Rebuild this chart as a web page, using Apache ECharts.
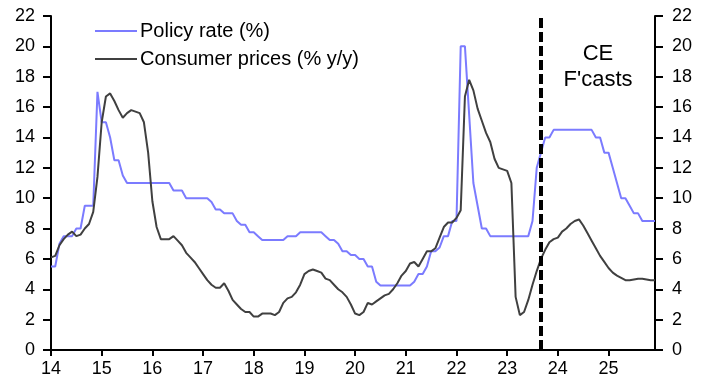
<!DOCTYPE html>
<html><head><meta charset="utf-8">
<script src="https://cdn.jsdelivr.net/npm/echarts@6/dist/echarts.min.js"></script>
<style>html,body{margin:0;padding:0;background:#fff}#c{width:709px;height:385px}</style>
</head><body><div id="c"></div>
<script>
// Category axis: monthly, Jan 2014 .. Dec 2025
const years = ['14','15','16','17','18','19','20','21','22','23','24','25'];
const monthNames = ['01','02','03','04','05','06','07','08','09','10','11','12'];
const yTicks = [0,2,4,6,8,10,12,14,16,18,20,22];

// Policy rate (%)
const policyRate = [
  5.5, 5.5, 7.0, 7.5, 7.5, 7.5, 8.0, 8.0, 9.5, 9.5, 9.5, 17.0,      // 2014
  15.0, 15.0, 14.0, 12.5, 12.5, 11.5, 11.0, 11.0, 11.0, 11.0, 11.0, 11.0, // 2015
  11.0, 11.0, 11.0, 11.0, 11.0, 10.5, 10.5, 10.5, 10.0, 10.0, 10.0, 10.0, // 2016
  10.0, 10.0, 9.75, 9.25, 9.25, 9.0, 9.0, 9.0, 8.5, 8.25, 8.25, 7.75,   // 2017
  7.75, 7.5, 7.25, 7.25, 7.25, 7.25, 7.25, 7.25, 7.5, 7.5, 7.5, 7.75,   // 2018
  7.75, 7.75, 7.75, 7.75, 7.75, 7.5, 7.25, 7.25, 7.0, 6.5, 6.5, 6.25,   // 2019
  6.25, 6.0, 6.0, 5.5, 5.5, 4.5, 4.25, 4.25, 4.25, 4.25, 4.25, 4.25,   // 2020
  4.25, 4.25, 4.5, 5.0, 5.0, 5.5, 6.5, 6.5, 6.75, 7.5, 7.5, 8.5,       // 2021
  8.5, 20.0, 20.0, 15.5, 11.0, 9.5, 8.0, 8.0, 7.5, 7.5, 7.5, 7.5,      // 2022
  7.5, 7.5, 7.5, 7.5, 7.5, 7.5, 8.5, 12.0, 13.0, 14.0, 14.0, 14.5,     // 2023
  14.5, 14.5, 14.5, 14.5, 14.5, 14.5, 14.5, 14.5, 14.5, 14.0, 14.0, 13.0, // 2024
  13.0, 12.0, 11.0, 10.0, 10.0, 9.5, 9.0, 9.0, 8.5, 8.5, 8.5, 8.5      // 2025
];

// Consumer prices (% y/y)
const consumerPrices = [
  6.1, 6.2, 6.9, 7.3, 7.6, 7.8, 7.5, 7.6, 8.0, 8.3, 9.1, 11.4,         // 2014
  15.0, 16.7, 16.9, 16.4, 15.8, 15.3, 15.6, 15.8, 15.7, 15.6, 15.0, 13.0, // 2015
  9.8, 8.1, 7.3, 7.3, 7.3, 7.5, 7.2, 6.9, 6.4, 6.1, 5.8, 5.4,          // 2016
  5.0, 4.6, 4.3, 4.1, 4.1, 4.4, 3.9, 3.3, 3.0, 2.7, 2.5, 2.5,          // 2017
  2.2, 2.2, 2.4, 2.4, 2.4, 2.3, 2.5, 3.1, 3.4, 3.5, 3.8, 4.3,          // 2018
  5.0, 5.2, 5.3, 5.2, 5.1, 4.7, 4.6, 4.3, 4.0, 3.8, 3.5, 3.0,          // 2019
  2.4, 2.3, 2.5, 3.1, 3.0, 3.2, 3.4, 3.6, 3.7, 4.0, 4.4, 4.9,          // 2020
  5.2, 5.7, 5.8, 5.5, 6.0, 6.5, 6.5, 6.7, 7.4, 8.1, 8.4, 8.4,          // 2021
  8.7, 9.2, 16.7, 17.8, 17.1, 15.9, 15.1, 14.3, 13.7, 12.6, 12.0, 11.9, // 2022
  11.8, 11.0, 3.5, 2.3, 2.5, 3.3, 4.3, 5.2, 6.0, 6.6, 7.1, 7.3,        // 2023
  7.4, 7.8, 8.0, 8.3, 8.5, 8.6, 8.2, 7.7, 7.2, 6.7, 6.2, 5.8,          // 2024
  5.4, 5.1, 4.9, 4.75, 4.6, 4.6, 4.65, 4.7, 4.7, 4.65, 4.6, 4.6        // 2025
];

const forecastStart = '23-09';
const categories = [];
years.forEach(y => monthNames.forEach(m => categories.push(y + '-' + m)));

const FONT = "'Liberation Sans', Arial, sans-serif";
const axisCommon = {
  type: 'value', min: 0, max: 22, interval: 2,
  splitLine: { show: false },
  axisLine: { show: true, lineStyle: { color: '#000', width: 2 } },
  axisTick: { show: true, inside: false, length: 8, lineStyle: { color: '#000', width: 2 } },
  axisLabel: { color: '#000', fontSize: 18, fontFamily: FONT, margin: 16 }
};

const chart = echarts.init(document.getElementById('c'), null, { renderer: 'canvas' });
chart.setOption({
  animation: false,
  backgroundColor: '#fff',
  grid: { left: 51, right: 54, top: 16, bottom: 35, containLabel: false },
  legend: {
    orient: 'vertical', left: 95, top: 21, padding: 0,
    icon: 'rect', itemWidth: 42, itemHeight: 2, itemGap: 8,
    textStyle: { color: '#000', fontSize: 20, fontFamily: FONT, lineHeight: 20, padding: [0, 0, 0, -2] },
    data: ['Policy rate (%)', 'Consumer prices (% y/y)']
  },
  xAxis: {
    type: 'category', boundaryGap: false, data: categories,
    axisLine: { lineStyle: { color: '#000', width: 2 } },
    axisTick: { interval: 11, length: 6, lineStyle: { color: '#000', width: 2 } },
    axisLabel: { interval: 11, color: '#000', fontSize: 18, fontFamily: FONT, margin: 10,
      formatter: v => v.split('-')[0] },
    splitLine: { show: false }
  },
  yAxis: [
    Object.assign({}, axisCommon, { position: 'left' }),
    Object.assign({}, axisCommon, { position: 'right', axisLabel: Object.assign({}, axisCommon.axisLabel, { margin: 17 }) })
  ],
  series: [
    { name: 'Policy rate (%)', type: 'line', data: policyRate, symbol: 'none',
      lineStyle: { color: '#7b7bff', width: 2 }, itemStyle: { color: '#7b7bff' } },
    { name: 'Consumer prices (% y/y)', type: 'line', data: consumerPrices, symbol: 'none',
      lineStyle: { color: '#404040', width: 2 }, itemStyle: { color: '#404040' },
      markLine: { silent: true, symbol: 'none', label: { show: false },
        lineStyle: { color: '#000', width: 4, type: [10, 4] },
        data: [{ xAxis: forecastStart }] } }
  ],
  graphic: [{
    type: 'text', x: 598, y: 41,
    style: { text: "CE\nF'casts", font: "22px 'Liberation Sans', Arial, sans-serif",
      fill: '#000', textAlign: 'center', lineHeight: 26 }
  }]
});
</script>
</body></html>
